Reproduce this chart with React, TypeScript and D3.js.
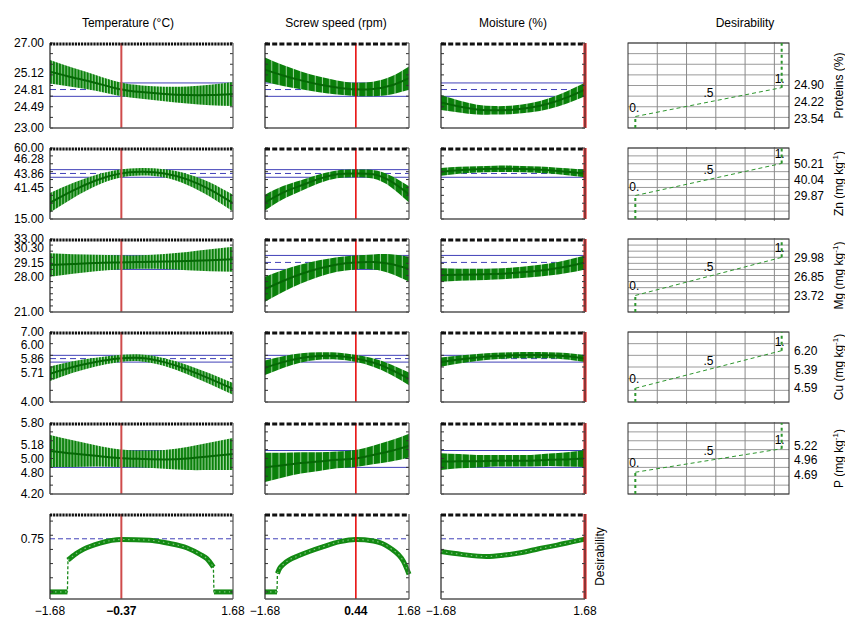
import React from "react";
import * as d3 from "d3";

const factorNames = ["Temperature (°C)", "Screw speed (rpm)", "Moisture (%)"];
const currentLevels = [-0.37, 0.44, 1.68];
const codedLevels = [-1.68, -1.26, -0.84, -0.42, 0, 0.42, 0.84, 1.26, 1.68];

const responseNames = ["Proteins", "Zn", "Mg", "Cu", "P"];
const responseUnits = ["%", "mg kg", "mg kg", "mg kg", "mg kg"];
const yMin = [23, 15, 21, 4, 4.2];
const yMax = [27, 60, 33, 7, 5.8];
const gridSteps = [0.5, 5, 1, 0.5, 0.2];

// lower CI, predicted, upper CI at the current settings
const predictedCI = [
  [24.49, 24.81, 25.12],
  [41.45, 43.86, 46.28],
  [28.0, 29.15, 30.3],
  [5.71, 5.86, 6.0],
  [4.8, 5.0, 5.18],
];

// desirability function: value giving 0, .5 and 1
const desTargets = [
  [23.54, 24.22, 24.9],
  [29.87, 40.04, 50.21],
  [23.72, 26.85, 29.98],
  [4.59, 5.39, 6.2],
  [4.69, 4.96, 5.22],
];

// fitted value / CI half width, one row per factor (temperature, speed, moisture)
const proteinsFit = [
  [25.65, 25.38, 25.12, 24.84, 24.69, 24.6, 24.55, 24.55, 24.6],
  [25.75, 25.47, 25.24, 25.05, 24.91, 24.82, 24.84, 25.0, 25.35],
  [24.2, 24.01, 23.87, 23.83, 23.86, 23.96, 24.15, 24.44, 24.81],
];
const proteinsCI = [
  [0.55, 0.45, 0.37, 0.32, 0.31, 0.34, 0.4, 0.48, 0.57],
  [0.57, 0.49, 0.42, 0.37, 0.33, 0.31, 0.34, 0.42, 0.55],
  [0.35, 0.28, 0.23, 0.2, 0.2, 0.22, 0.25, 0.29, 0.315],
];
const znFit = [
  [25.3, 33.0, 39.4, 43.6, 44.9, 43.9, 40.1, 33.6, 25.0],
  [25.4, 31.7, 36.2, 40.4, 43.3, 43.9, 43.3, 38.8, 30.6],
  [44.9, 45.9, 46.5, 46.8, 46.8, 46.5, 45.9, 44.9, 43.9],
];
const znCI = [
  [6.2, 4.8, 3.5, 2.6, 2.4, 2.6, 3.5, 4.5, 5.3],
  [5.0, 4.2, 3.4, 2.8, 2.5, 2.4, 2.7, 3.6, 5.1],
  [2.5, 2.2, 2.0, 2.0, 2.0, 2.0, 2.1, 2.2, 2.4],
];
const mgFit = [
  [28.73, 28.89, 29.06, 29.14, 29.22, 29.3, 29.38, 29.5, 29.66],
  [24.75, 26.1, 27.25, 28.15, 28.81, 29.15, 29.22, 28.89, 28.04],
  [27.08, 27.12, 27.16, 27.25, 27.41, 27.66, 27.99, 28.48, 29.15],
];
const mgCI = [
  [1.92, 1.6, 1.35, 1.17, 1.12, 1.25, 1.5, 1.8, 2.05],
  [2.05, 1.8, 1.55, 1.35, 1.2, 1.15, 1.25, 1.6, 2.05],
  [1.1, 1.0, 0.95, 0.9, 0.9, 0.95, 1.0, 1.08, 1.15],
];
const cuFit = [
  [5.21, 5.5, 5.71, 5.86, 5.89, 5.71, 5.39, 4.99, 4.56],
  [5.47, 5.71, 5.89, 5.97, 5.97, 5.87, 5.69, 5.39, 4.99],
  [5.71, 5.82, 5.91, 5.97, 6.0, 6.01, 6.0, 5.96, 5.86],
];
const cuCI = [
  [0.31, 0.25, 0.19, 0.155, 0.15, 0.17, 0.2, 0.23, 0.25],
  [0.31, 0.25, 0.2, 0.16, 0.15, 0.15, 0.18, 0.22, 0.27],
  [0.2, 0.17, 0.15, 0.14, 0.13, 0.13, 0.13, 0.14, 0.15],
];
const pFit = [
  [5.17, 5.11, 5.06, 5.01, 4.99, 4.98, 5.0, 5.05, 5.1],
  [4.8, 4.85, 4.9, 4.93, 4.97, 5.0, 5.08, 5.17, 5.29],
  [4.93, 4.94, 4.94, 4.95, 4.95, 4.95, 4.97, 4.98, 5.0],
];
const pCI = [
  [0.36, 0.3, 0.24, 0.2, 0.19, 0.21, 0.26, 0.31, 0.36],
  [0.33, 0.28, 0.24, 0.21, 0.19, 0.19, 0.21, 0.24, 0.27],
  [0.19, 0.16, 0.14, 0.13, 0.13, 0.13, 0.14, 0.16, 0.19],
];

// overall desirability profiles
const desTempX = [-1.68, -1.36, -1.35, -1.2, -1.07, -0.76, -0.37, 0.15, 0.47, 0.84, 1.1, 1.2, 1.32, 1.33, 1.68];
const desTempY = [0, 0, 0.45, 0.54, 0.6, 0.69, 0.74, 0.73, 0.69, 0.62, 0.52, 0.47, 0.35, 0, 0];
const desSpeedX = [-1.68, -1.4, -1.39, -1.34, -1.25, -0.86, -0.32, 0.07, 0.44, 0.85, 1.24, 1.55, 1.68];
const desSpeedY = [0, 0, 0.26, 0.33, 0.39, 0.52, 0.64, 0.71, 0.74, 0.72, 0.62, 0.43, 0.25];
const desMoistX = [-1.68, -1.2, -0.62, -0.2, 0.24, 0.6, 1.03, 1.4, 1.68];
const desMoistY = [0.57, 0.53, 0.5, 0.52, 0.56, 0.61, 0.66, 0.71, 0.745];
const overallDesirability = 0.75;

const fits = [proteinsFit, znFit, mgFit, cuFit, pFit];
const cis = [proteinsCI, znCI, mgCI, cuCI, pCI];
const desXs = [desTempX, desSpeedX, desMoistX];
const desYs = [desTempY, desSpeedY, desMoistY];

// ---- layout ----
const W = 845, H = 617;
const FONT = "'Liberation Sans', Arial, Helvetica, sans-serif";
const colSpans = [[50, 233], [265, 409], [441, 585]];
const desSpan = [628, 789];
const rowSpans = [[43, 128], [148, 219], [239, 312], [332, 402], [423, 494], [514, 599]];
const titleX = [128, 336, 513];
const stripeStep = [183 / 60, 145 / 20, 144 / 20];
const topDash = ["2.2 0.9", "5 2.2", "5 2.2"];
const redStyle = [
  { stroke: "#cf4b4b", w: 2 },
  { stroke: "#e60000", w: 1.5 },
  { stroke: "#e60000", w: 3 },
];
const BLUE = "#4040b8";
const GREEN = "#0a800a";
const fmt = d3.format(".2f");

function spreadLabels(pos: number[], gap: number) {
  // positions from top to bottom; the middle one stays put
  const out = pos.slice();
  const m = Math.floor(out.length / 2);
  for (let i = m - 1; i >= 0; i--) out[i] = Math.min(out[i], out[i + 1] - gap);
  for (let i = m + 1; i < out.length; i++) out[i] = Math.max(out[i], out[i - 1] + gap);
  return out;
}

function Frame({ x0, x1, top, bottom, c, ticks }: any) {
  return (
    <g>
      {ticks.map((t: number, i: number) => (
        <g key={i}>
          <line x1={x0} x2={x0 + 3} y1={t} y2={t} stroke="#333" />
          <line x1={x1 - 3} x2={x1} y1={t} y2={t} stroke="#333" />
        </g>
      ))}
      <line x1={x0} x2={x0} y1={top} y2={bottom} stroke="#222" strokeWidth={1.2} />
      <line x1={x1} x2={x1} y1={top} y2={bottom} stroke="#555" strokeWidth={1.2} />
      <line x1={x0} x2={x1} y1={bottom} y2={bottom} stroke="#555" strokeWidth={1.5} />
      <line x1={x0} x2={x1} y1={top + 1} y2={top + 1} stroke="#111" strokeWidth={3} strokeDasharray={topDash[c]} />
    </g>
  );
}

function ProfilePanel({ r, c }: any) {
  const [x0, x1] = colSpans[c];
  const [top, bottom] = rowSpans[r];
  const x = d3.scaleLinear().domain([-1.68, 1.68]).range([x0, x1]);
  const y = d3.scaleLinear().domain([yMin[r], yMax[r]]).range([bottom, top]);
  const pts = codedLevels.map((lv, i) => ({ lv, f: fits[r][c][i], h: cis[r][c][i] }));
  const area = d3.area<any>().x((d) => x(d.lv)).y0((d) => y(d.f - d.h)).y1((d) => y(d.f + d.h)).curve(d3.curveNatural);
  const line = d3.line<any>().x((d) => x(d.lv)).y((d) => y(d.f)).curve(d3.curveNatural);
  const id = `p${r}${c}`;
  const [lo, pr, hi] = predictedCI[r];
  const ticks = d3.range(yMin[r], yMax[r] + 1e-9, gridSteps[r]).map((v) => y(v));
  const labelPos = spreadLabels([y(hi), y(pr), y(lo)], 0.2 * (bottom - top));
  const sw = stripeStep[c];
  return (
    <g>
      <defs>
        <clipPath id={`clip-${id}`}>
          <rect x={x0} y={top} width={x1 - x0} height={bottom - top} />
        </clipPath>
        <pattern id={`pat-${id}`} patternUnits="userSpaceOnUse" x={x0} y={0} width={sw} height={8}>
          <rect width={sw} height={8} fill={GREEN} />
          <rect x={sw - 1} width={1} height={8} fill="#a3d6a3" />
        </pattern>
      </defs>
      <line x1={x0} x2={x1} y1={y(hi)} y2={y(hi)} stroke={BLUE} />
      <line x1={x0} x2={x1} y1={y(lo)} y2={y(lo)} stroke={BLUE} />
      <line x1={x0} x2={x1} y1={y(pr)} y2={y(pr)} stroke={BLUE} strokeDasharray="6 4" />
      <g clipPath={`url(#clip-${id})`}>
        <path d={area(pts) || ""} fill={`url(#pat-${id})`} />
        <path d={line(pts) || ""} fill="none" stroke="#066806" strokeWidth={2} />
      </g>
      <line x1={x(currentLevels[c])} x2={x(currentLevels[c])} y1={top} y2={bottom}
        stroke={redStyle[c].stroke} strokeWidth={redStyle[c].w} />
      <Frame x0={x0} x1={x1} top={top} bottom={bottom} c={c} ticks={ticks} />
      {c === 0 && (
        <g textAnchor="end">
          <text x={44} y={top} dy="0.35em">{fmt(yMax[r])}</text>
          <text x={44} y={bottom} dy="0.35em">{fmt(yMin[r])}</text>
          {[hi, pr, lo].map((v, i) => (
            <text key={i} x={44} y={labelPos[i]} dy="0.35em">{fmt(v)}</text>
          ))}
        </g>
      )}
    </g>
  );
}

function DesirabilityProfile({ c }: any) {
  const [x0, x1] = colSpans[c];
  const [top, bottom] = rowSpans[5];
  const x = d3.scaleLinear().domain([-1.68, 1.68]).range([x0, x1]);
  const y = d3.scaleLinear().domain([-0.1, 1.1]).range([bottom, top]);
  const pts = desXs[c].map((lv, i) => ({ lv, d: desYs[c][i] }));
  const segs: any[] = [];
  let cur: any[] = [pts[0]];
  for (let i = 1; i < pts.length; i++) {
    if (pts[i].lv - pts[i - 1].lv < 0.02) {
      segs.push(cur);
      cur = [pts[i]];
    } else cur.push(pts[i]);
  }
  segs.push(cur);
  const thin = d3.line<any>().x((d) => x(d.lv)).y((d) => y(d.d));
  const thick = d3.line<any>().x((d) => x(d.lv)).y((d) => y(d.d)).curve(d3.curveMonotoneX);
  const ticks = d3.range(0, 1.01, 0.2).map((v) => y(v));
  return (
    <g>
      <line x1={x0} x2={x1} y1={y(overallDesirability)} y2={y(overallDesirability)} stroke={BLUE} strokeDasharray="5 3" />
      <path d={thin(pts) || ""} fill="none" stroke="#1a8a1a" strokeWidth={1.3} strokeDasharray="3 2" />
      {segs.map((s, i) => (
        <g key={i}>
          <path d={thick(s) || ""} fill="none" stroke="#138a13" strokeWidth={5} />
          <path d={thick(s) || ""} fill="none" stroke="#7cc47c" strokeWidth={1.2} strokeDasharray="1.5 3.5" />
        </g>
      ))}
      <line x1={x(currentLevels[c])} x2={x(currentLevels[c])} y1={top} y2={bottom}
        stroke={redStyle[c].stroke} strokeWidth={redStyle[c].w} />
      <Frame x0={x0} x1={x1} top={top} bottom={bottom} c={c} ticks={ticks} />
      {c === 0 && (
        <text x={44} y={y(overallDesirability)} dy="0.35em" textAnchor="end">{fmt(overallDesirability)}</text>
      )}
    </g>
  );
}

function DesirabilityFunction({ r }: any) {
  const [x0, x1] = desSpan;
  const [top, bottom] = rowSpans[r];
  const x = d3.scaleLinear().domain([-0.05, 1.05]).range([x0, x1]);
  const y = d3.scaleLinear().domain([yMin[r], yMax[r]]).range([bottom, top]);
  const [lo, mid, hi] = desTargets[r];
  const hLines = d3.range(yMin[r], yMax[r] + 1e-9, gridSteps[r]);
  const vLines = [0.15, 0.35, 0.55, 0.75, 0.95];
  const labelPos = spreadLabels([y(hi), y(mid), y(lo)], 0.2 * (bottom - top));
  return (
    <g>
      {hLines.map((v, i) => (
        <line key={`h${i}`} x1={x0} x2={x1} y1={y(v)} y2={y(v)} stroke="#9a9a9a" />
      ))}
      {vLines.map((v, i) => (
        <line key={`v${i}`} x1={x(v)} x2={x(v)} y1={top - 1} y2={bottom + 2} stroke="#8a8a8a" />
      ))}
      <rect x={x0} y={top} width={x1 - x0} height={bottom - top} fill="none" stroke="#333" />
      <line x1={x(0)} x2={x(0)} y1={bottom} y2={y(lo)} stroke="#2e962e" strokeWidth={2} strokeDasharray="3 3" />
      <line x1={x(1)} x2={x(1)} y1={y(hi)} y2={top} stroke="#2e962e" strokeWidth={2} strokeDasharray="3 3" />
      <line x1={x(0)} x2={x(1)} y1={y(lo)} y2={y(hi)} stroke="#2e962e" strokeWidth={1} strokeDasharray="4 3" />
      <text x={x(0) - 6} y={y(lo) - 5}>0.</text>
      <text x={x(0.5)} y={y(mid) - 5} textAnchor="middle">.5</text>
      <text x={x(1) + 3} y={y(hi) - 5} textAnchor="end">1.</text>
      {[hi, mid, lo].map((v, i) => (
        <text key={i} x={794} y={labelPos[i]} dy="0.35em">{fmt(v)}</text>
      ))}
      <text transform={`translate(843,${(top + bottom) / 2}) rotate(-90)`} textAnchor="middle">
        {responseUnits[r] === "%" ? (
          `${responseNames[r]} (%)`
        ) : (
          <>
            {`${responseNames[r]} (${responseUnits[r]}`}
            <tspan fontSize={8} dy={-5}>-1</tspan>
            <tspan dy={5}>)</tspan>
          </>
        )}
      </text>
    </g>
  );
}

export default function App() {
  const bottomY = 615;
  return (
    <svg width={W} height={H} style={{ position: "absolute", left: 0, top: 0, display: "block" }}
      fontFamily={FONT} fontSize={12} fill="#000">
      <rect width={W} height={H} fill="#fff" />
      {factorNames.map((n, c) => (
        <text key={n} x={titleX[c]} y={27} textAnchor="middle">{n}</text>
      ))}
      <text x={745} y={27} textAnchor="middle">Desirability</text>
      {d3.range(5).map((r) => d3.range(3).map((c) => <ProfilePanel key={`${r}-${c}`} r={r} c={c} />))}
      {d3.range(3).map((c) => <DesirabilityProfile key={c} c={c} />)}
      {d3.range(5).map((r) => <DesirabilityFunction key={r} r={r} />)}
      <text transform={`translate(604,${(rowSpans[5][0] + rowSpans[5][1]) / 2}) rotate(-90)`} textAnchor="middle">
        Desirability
      </text>
      {colSpans.map(([x0, x1], c) => {
        const x = d3.scaleLinear().domain([-1.68, 1.68]).range([x0, x1]);
        const lv = currentLevels[c];
        return (
          <g key={c} textAnchor="middle">
            <text x={x(-1.68)} y={bottomY}>{fmt(-1.68)}</text>
            <text x={x(1.68)} y={bottomY}>{fmt(1.68)}</text>
            {Math.abs(lv) < 1.6 && (
              <text x={x(lv)} y={bottomY} fontWeight="bold">{fmt(lv)}</text>
            )}
          </g>
        );
      })}
    </svg>
  );
}
